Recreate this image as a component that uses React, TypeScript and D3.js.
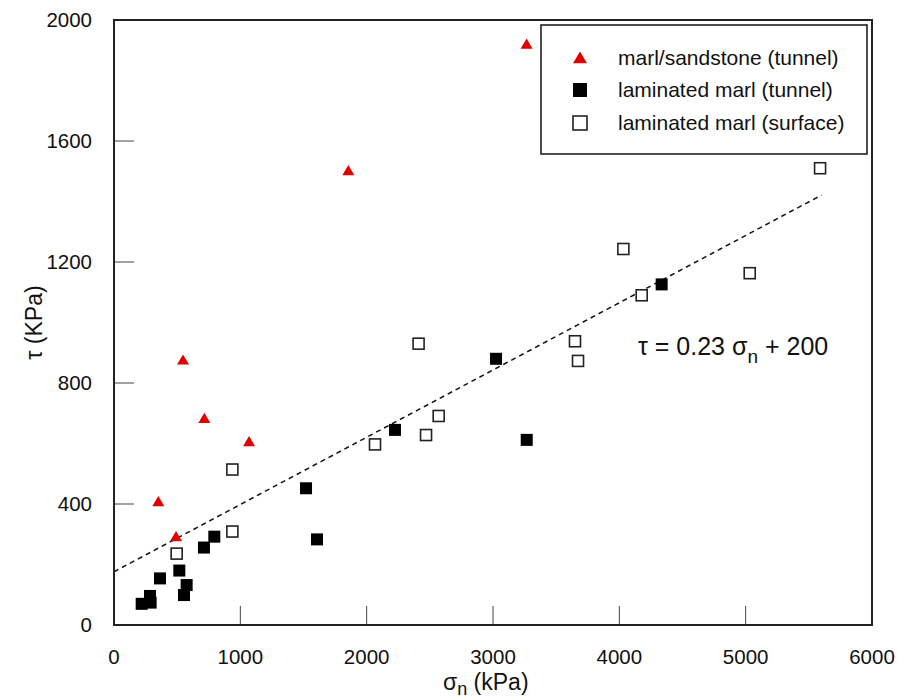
import React from "react";
import * as d3 from "d3";

const xTicks = [0, 1000, 2000, 3000, 4000, 5000, 6000];
const yTicks = [0, 400, 800, 1200, 1600, 2000];

const sandstoneX = [3266, 1855, 546, 715, 1069, 351, 491];
const sandstoneY = [1920, 1502, 876, 683, 606, 408, 292];

const tunnelX = [219, 285, 290, 364, 517, 575, 554, 712, 794, 1520, 1607, 2224, 3024, 3267, 4335];
const tunnelY = [70, 96, 74, 154, 180, 132, 99, 256, 292, 452, 283, 645, 880, 612, 1126];

const surfaceX = [496, 937, 937, 2066, 2411, 2570, 2470, 3649, 3673, 4032, 4177, 5032, 5589];
const surfaceY = [236, 514, 309, 597, 930, 691, 628, 938, 873, 1243, 1090, 1163, 1510];

const fitX = [0, 5600];
const fitY = [176, 1421];

const legendLabels = ["marl/sandstone (tunnel)", "laminated marl (tunnel)", "laminated marl (surface)"];

const FONT = "'Liberation Sans', Arial, sans-serif";

export default function App() {
  const W = 899, H = 699;
  const left = 114, right = 872, top = 20, bottom = 625;
  const x = d3.scaleLinear().domain([0, 6000]).range([left, right]);
  const y = d3.scaleLinear().domain([0, 2000]).range([bottom, top]);

  const line = d3.line<number>().x((_, i) => x(fitX[i])).y((_, i) => y(fitY[i]));
  const fitPath = line(fitX) || "";

  const tri = (cx: number, cy: number, s: number) => {
    const h = s * 0.85;
    return `M${cx},${cy - h * 0.55} L${cx + s / 2},${cy + h * 0.45} L${cx - s / 2},${cy + h * 0.45} Z`;
  };

  const sq = 11;
  const legendX = 580;
  const legendRows = [58, 90, 123];

  return (
    <svg width={W} height={H} style={{ position: "absolute", left: 0, top: 0, background: "#fff" }} fontFamily={FONT}>
      <rect x={0} y={0} width={W} height={H} fill="#fff" />
      {/* ticks */}
      {xTicks.slice(1, -1).map((t) => (
        <line key={"xt" + t} x1={x(t)} x2={x(t)} y1={bottom} y2={bottom - 19} stroke="#444" strokeWidth={1} />
      ))}
      {yTicks.slice(1, -1).map((t) => (
        <line key={"yt" + t} x1={left} x2={left + 20} y1={y(t)} y2={y(t)} stroke="#444" strokeWidth={1} />
      ))}
      {/* tick labels */}
      {xTicks.map((t) => (
        <text key={"xl" + t} x={x(t)} y={664} textAnchor="middle" fontSize={20.5} fill="#111">
          {t}
        </text>
      ))}
      {yTicks.map((t) => (
        <text key={"yl" + t} x={92} y={y(t) + 7} textAnchor="end" fontSize={20.5} fill="#111">
          {t}
        </text>
      ))}
      {/* fit line */}
      <path d={fitPath} fill="none" stroke="#111" strokeWidth={1.5} strokeDasharray="5,4" />
      {/* surface squares */}
      {surfaceX.map((v, i) => (
        <rect key={"s" + i} x={x(v) - sq / 2} y={y(surfaceY[i]) - sq / 2} width={sq} height={sq} fill="#fff" stroke="#222" strokeWidth={1.6} />
      ))}
      {/* tunnel squares */}
      {tunnelX.map((v, i) => (
        <rect key={"t" + i} x={x(v) - 6} y={y(tunnelY[i]) - 6} width={12} height={12} fill="#000" />
      ))}
      {/* triangles */}
      {sandstoneX.map((v, i) => (
        <path key={"r" + i} d={tri(x(v), y(sandstoneY[i]), 12)} fill="#e00000" />
      ))}
      {/* frame */}
      <rect x={left} y={top} width={right - left} height={bottom - top} fill="none" stroke="#222" strokeWidth={2} />
      {/* legend */}
      <rect x={541} y={25} width={326} height={129} fill="#fff" stroke="#222" strokeWidth={1.6} />
      <path d={tri(legendX, legendRows[0], 14)} fill="#e00000" />
      <rect x={legendX - 7} y={legendRows[1] - 7} width={14} height={14} fill="#000" />
      <rect x={legendX - 7} y={legendRows[2] - 7} width={14} height={14} fill="#fff" stroke="#222" strokeWidth={1.6} />
      {legendLabels.map((l, i) => (
        <text key={l} x={618} y={legendRows[i] + 7} fontSize={21} fill="#111">
          {l}
        </text>
      ))}
      {/* equation */}
      <text x={638} y={355} fontSize={25} fill="#111">
        <tspan>τ = 0.23 σ</tspan>
        <tspan fontSize={19} dy={8}>n</tspan>
        <tspan dy={-8}> + 200</tspan>
      </text>
      {/* axis titles */}
      <text y={690} fontSize={23} fill="#111">
        <tspan x={443}>σ</tspan>
        <tspan fontSize={18} dy={5}>n</tspan>
        <tspan dy={-5}> (kPa)</tspan>
      </text>
      <text transform={`translate(42,${(top + bottom) / 2}) rotate(-90)`} textAnchor="middle" fontSize={23} fill="#111">
        τ (KPa)
      </text>
    </svg>
  );
}
